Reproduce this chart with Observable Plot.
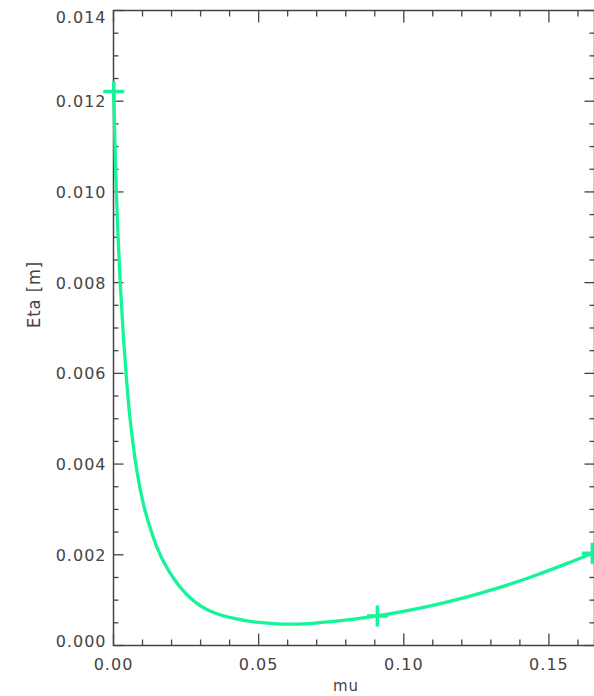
<!DOCTYPE html>
<html><head><meta charset="utf-8">
<script src="https://cdn.jsdelivr.net/npm/d3@7"></script>
<script src="https://cdn.jsdelivr.net/npm/@observablehq/plot@0.6"></script>
<style>
html,body{margin:0;padding:0;background:#fff;}
svg text{letter-spacing:1px;}
svg text.ytitle{letter-spacing:0.5px;}
</style></head><body><div id="chart"></div>
<script>
const mu  = [0.000103, 0.000379, 0.000861, 0.001482, 0.002274, 0.003274, 0.004514, 0.005513, 0.006892, 0.007650, 0.008615, 0.009786, 0.011130, 0.012888, 0.014990, 0.017540, 0.021158, 0.026189, 0.030737, 0.035183, 0.041213, 0.048346, 0.056341, 0.063301, 0.0759, 0.0874, 0.0989, 0.1104, 0.1219, 0.1334, 0.1448, 0.1563, 0.16496];
const eta = [0.012215, 0.011355, 0.010253, 0.009152, 0.008050, 0.006948, 0.005846, 0.005119, 0.004370, 0.004017, 0.003643, 0.003268, 0.002915, 0.002541, 0.002166, 0.001814, 0.001439, 0.001064, 0.000844, 0.000712, 0.000602, 0.000520, 0.000478, 0.000472, 0.000533, 0.000621, 0.000741, 0.000891, 0.001072, 0.001286, 0.001532, 0.001810, 0.002035];
const markerMu  = [0.000103, 0.0909, 0.16496];
const markerEta = [0.012215, 0.000650, 0.002035];
const xDomain = [0, 0.1657];
const yDomain = [0, 0.014];
const xMajor = [0, 0.05, 0.10, 0.15];
const xLabels = ["0.00", "0.05", "0.10", "0.15"];
const xMinor = [0.01, 0.02, 0.03, 0.04, 0.06, 0.07, 0.08, 0.09, 0.11, 0.12, 0.13, 0.14, 0.16];
const yMajor = [0, 0.002, 0.004, 0.006, 0.008, 0.010, 0.012, 0.014];
const yLabels = ["0.000", "0.002", "0.004", "0.006", "0.008", "0.010", "0.012", "0.014"];
const yMinor = [0.0005, 0.001, 0.0015, 0.0025, 0.003, 0.0035, 0.0045, 0.005, 0.0055, 0.0065, 0.007, 0.0075, 0.0085, 0.009, 0.0095, 0.0105, 0.011, 0.0115, 0.0125, 0.013, 0.0135];
const xTitle = "mu";
const yTitle = "Eta [m]";

const curve = mu.map((m, i) => ({mu: m, eta: eta[i]}));
const markers = markerMu.map((m, i) => ({mu: m, eta: markerEta[i]}));

function seg(dx, dy) {
  return {draw(ctx, size) { const r = Math.sqrt(size / Math.PI); ctx.moveTo(0, 0); ctx.lineTo(dx * r, dy * r); }};
}
const plusSym = {draw(ctx, size) { const r = Math.sqrt(size / Math.PI); ctx.moveTo(-r, 0); ctx.lineTo(r, 0); ctx.moveTo(0, -r); ctx.lineTo(0, r); }};

const axisColor = "#444";
const textColor = "#444";
const green = "#14f598";
const fs = 16;

function ticks(values, orient, len) {
  const base = {stroke: axisColor, fill: "none", strokeWidth: 1.3, r: len};
  if (orient === "left") return Plot.dot(values, {...base, x: () => xDomain[0], y: d => d, symbol: seg(1, 0)});
  if (orient === "right") return Plot.dot(values, {...base, x: () => xDomain[1], y: d => d, symbol: seg(-1, 0)});
  if (orient === "bottom") return Plot.dot(values, {...base, x: d => d, y: () => yDomain[0], symbol: seg(0, -1)});
  return Plot.dot(values, {...base, x: d => d, y: () => yDomain[1], symbol: seg(0, 1)});
}

const yl = yMajor.map((v, i) => ({v, t: yLabels[i]}));
const xl = xMajor.map((v, i) => ({v, t: xLabels[i]}));
const tx = {fill: textColor, fontSize: fs};

const chart = Plot.plot({
  width: 594,
  height: 696,
  marginLeft: 113,
  marginRight: 0,
  marginTop: 10,
  marginBottom: 51,
  x: {domain: xDomain, axis: null},
  y: {domain: yDomain, axis: null},
  style: {fontFamily: "DejaVu Sans", fontSize: fs + "px", background: "#fff"},
  marks: [
    ticks(yMajor, "left", 10), ticks(yMinor, "left", 5),
    ticks(yMajor, "right", 10), ticks(yMinor, "right", 5),
    ticks(xMajor, "bottom", 12), ticks(xMinor, "bottom", 6),
    ticks(xMajor, "top", 12), ticks(xMinor, "top", 6),
    Plot.frame({stroke: axisColor, strokeWidth: 1.5}),
    Plot.text(yl.slice(1, -1), {...tx, x: () => xDomain[0], y: "v", text: "t", textAnchor: "end", dx: -7, dy: 1}),
    Plot.text(yl.slice(0, 1), {...tx, x: () => xDomain[0], y: "v", text: "t", textAnchor: "end", lineAnchor: "bottom", dx: -7, dy: 1}),
    Plot.text(yl.slice(-1), {...tx, x: () => xDomain[0], y: "v", text: "t", textAnchor: "end", lineAnchor: "top", dx: -7, dy: 1}),
    Plot.text(xl, {...tx, x: "v", y: () => yDomain[0], text: "t", lineAnchor: "top", dy: 13}),
    Plot.text([xTitle], {...tx, fontSize: 15, frameAnchor: "bottom", lineAnchor: "bottom", dy: 45, dx: -8}),
    Plot.text([yTitle], {...tx, fontSize: 18, fontFamily: "DejaVu Sans Condensed", className: "ytitle", frameAnchor: "left", rotate: -90, dx: -79, dy: 0}),
    Plot.line(curve, {x: "mu", y: "eta", stroke: green, strokeWidth: 3.3, curve: "catmull-rom"}),
    Plot.dot(markers, {x: "mu", y: "eta", symbol: plusSym, r: 10.5, stroke: green, fill: "none", strokeWidth: 3.5})
  ]
});
document.getElementById("chart").appendChild(chart);
</script></body></html>
